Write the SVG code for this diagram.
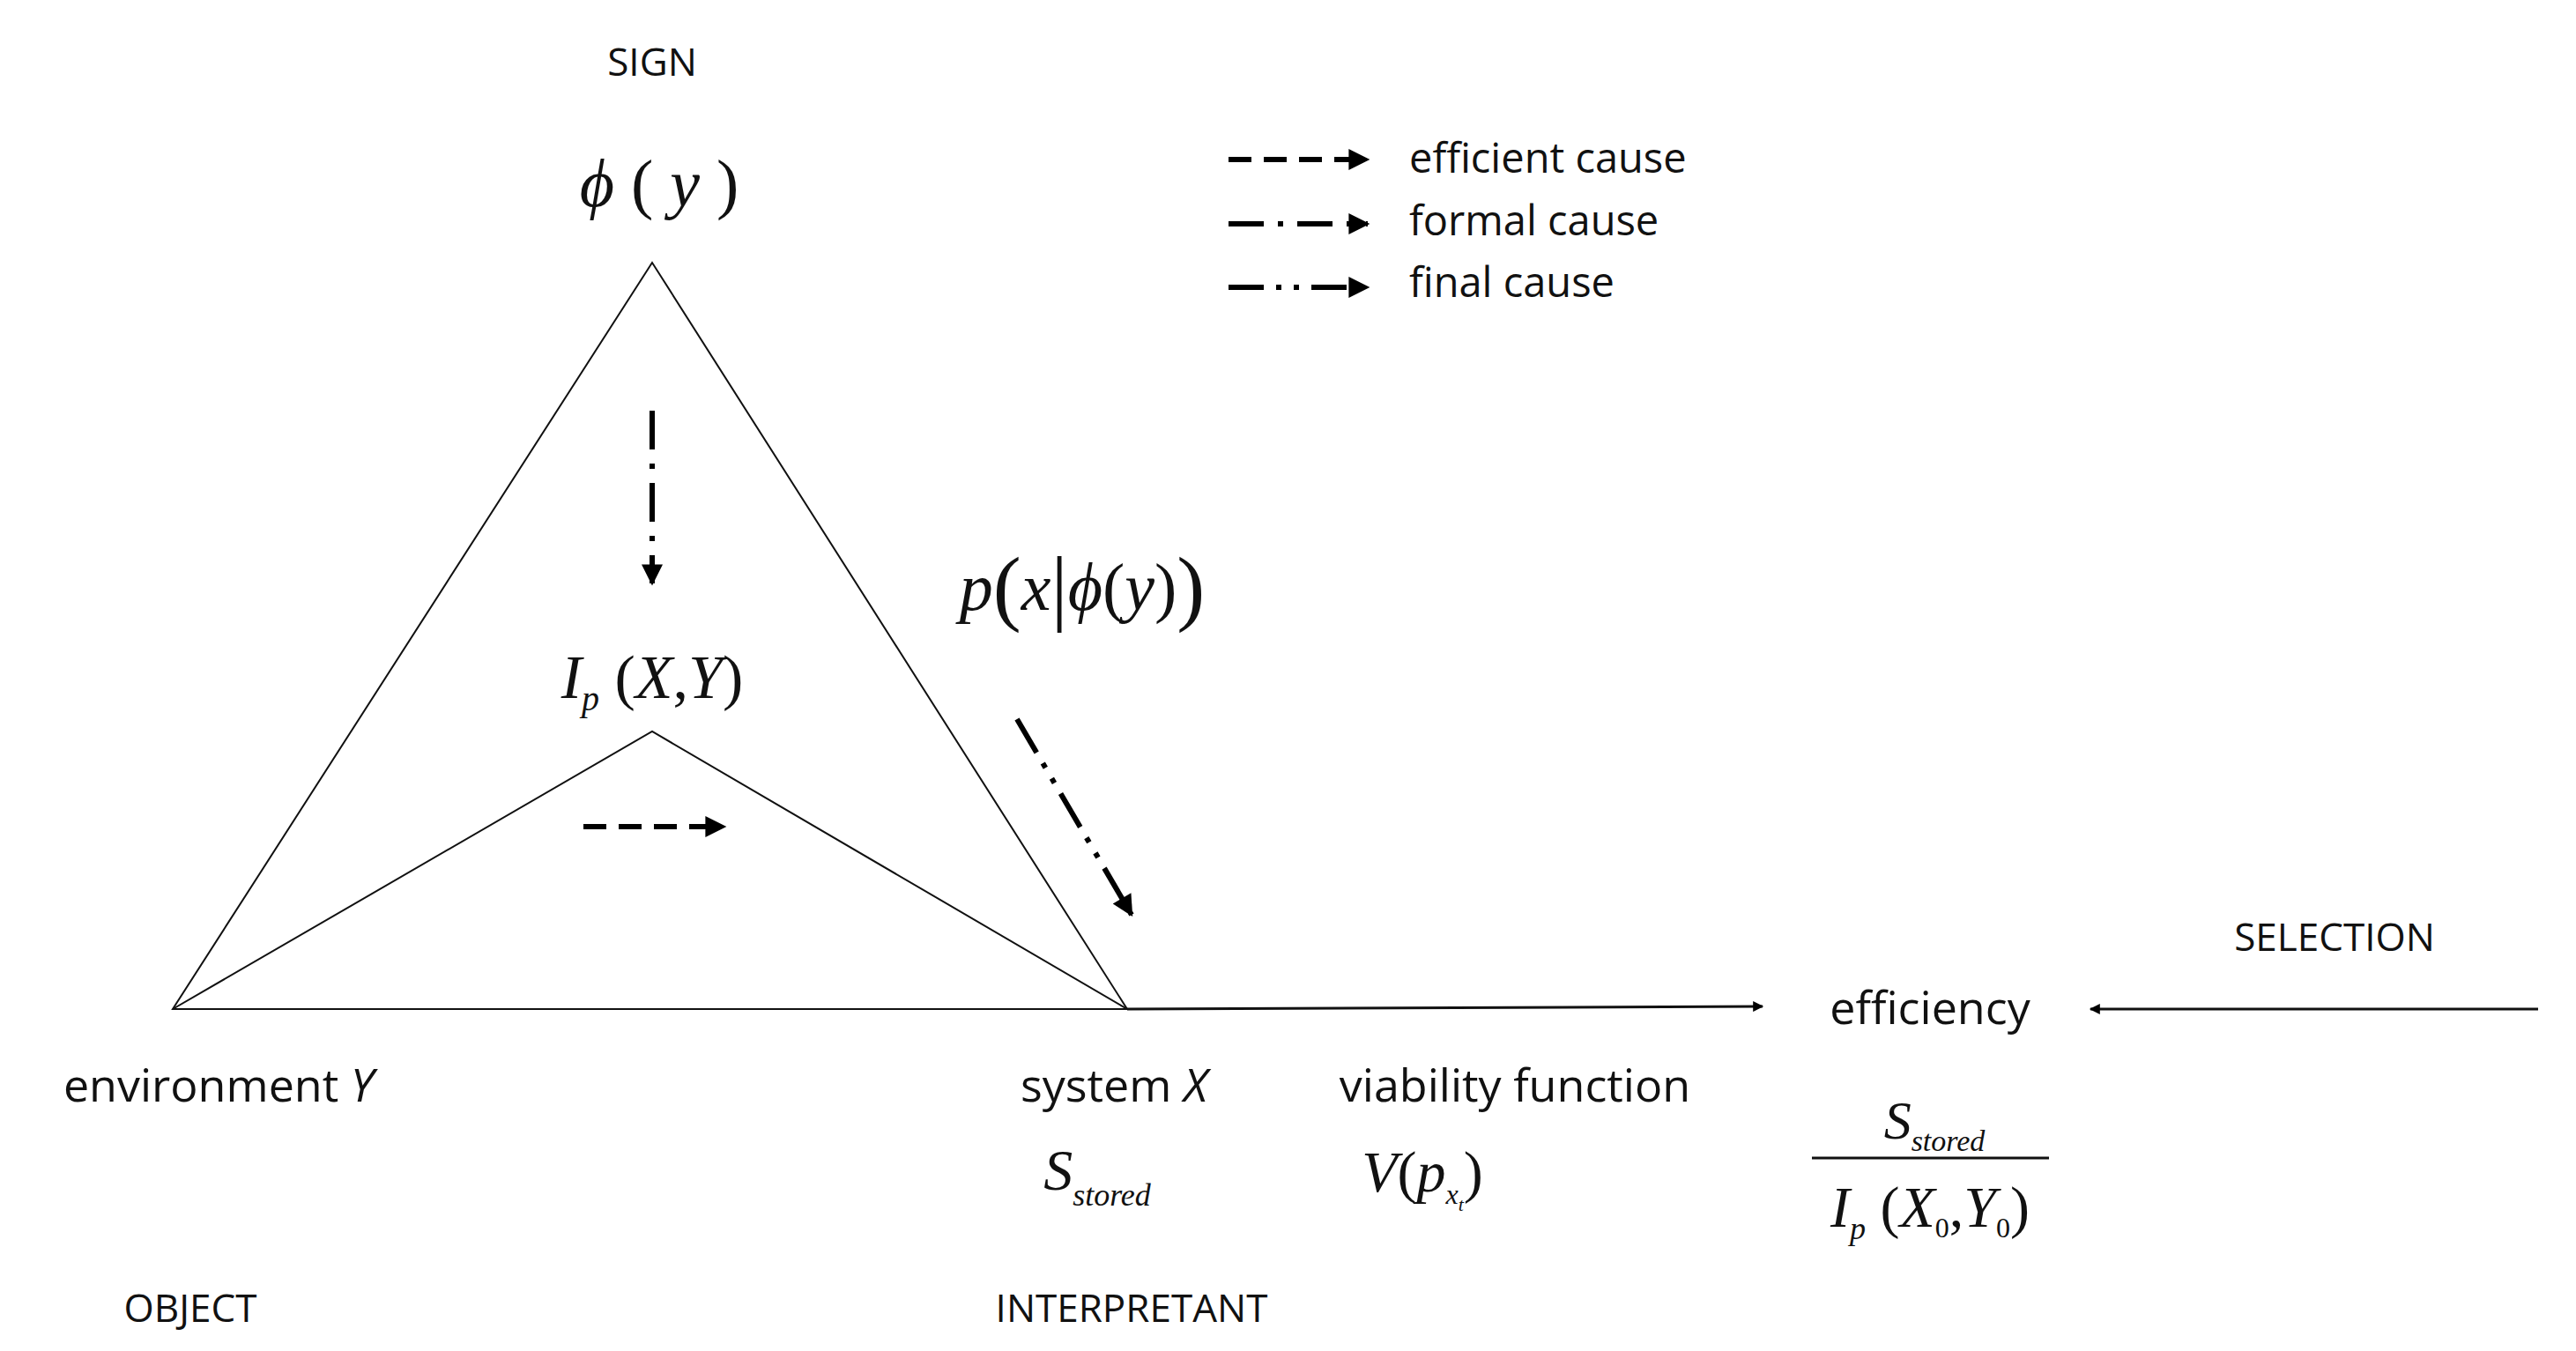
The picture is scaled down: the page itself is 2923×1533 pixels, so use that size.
<svg xmlns="http://www.w3.org/2000/svg" width="2923" height="1533" viewBox="0 0 2923 1533">
<style>
.t{font-family:"Open Sans","Liberation Sans",sans-serif;fill:#111;text-anchor:middle}
.l{font-family:"Open Sans","Liberation Sans",sans-serif;fill:#111;font-size:47px}
.m{font-family:"Liberation Serif",serif;font-style:italic;fill:#111;text-anchor:middle}
.u{font-style:normal}
.ln{stroke:#111;stroke-width:2;fill:none}
.a{stroke:#000;stroke-width:6;fill:none}
</style>
<defs>
<marker id="ah" viewBox="0 0 10 10" refX="9" refY="5" markerWidth="4.5" markerHeight="4" orient="auto"><path d="M0,0L10,5L0,10z" fill="#000"/></marker>
</defs>
<g id="triangle">
<polygon class="ln" points="740,298 196,1145 1279,1145"/>
<polyline class="ln" points="196,1145 740,830 1279,1145"/>
</g>
<g id="connectors">
<line class="a" x1="740" y1="466" x2="740" y2="662" stroke-dasharray="44,16,6,16" marker-end="url(#ah)"/>
<line class="a" x1="662" y1="938" x2="822" y2="938" stroke-dasharray="26,14" marker-end="url(#ah)"/>
<line class="a" x1="1154" y1="816" x2="1284" y2="1038" stroke-dasharray="44,14,6,14,6,14" marker-end="url(#ah)"/>
<line x1="1279" y1="1145" x2="2000" y2="1142" stroke="#111" stroke-width="3" marker-end="url(#ah)"/>
<line x1="2880" y1="1145" x2="2372" y2="1145" stroke="#111" stroke-width="3" marker-end="url(#ah)"/>
</g>
<g id="legend">
<line class="a" x1="1394" y1="181" x2="1552" y2="181" stroke-dasharray="26,14" marker-end="url(#ah)"/>
<line class="a" x1="1394" y1="254" x2="1552" y2="254" stroke-dasharray="40,16,6,16" marker-end="url(#ah)"/>
<line class="a" x1="1394" y1="326" x2="1552" y2="326" stroke-dasharray="40,14,6,14,6,14" marker-end="url(#ah)"/>
<text class="l" x="1599" y="196">efficient cause</text>
<text class="l" x="1599" y="267">formal cause</text>
<text class="l" x="1599" y="337">final cause</text>
</g>
<g id="sign">
<text class="t" x="740" y="86" font-size="44">SIGN</text>
<text class="m" x="748" y="234" font-size="76">ϕ <tspan class="u">(</tspan> y <tspan class="u">)</tspan></text>
</g>
<g id="ip"><text class="m" x="740" y="792" font-size="70">I<tspan font-size="40" dy="14">p</tspan><tspan dy="-14" class="u"> (</tspan>X<tspan class="u">,</tspan>Y<tspan class="u">)</tspan></text></g>
<g id="pcond"><text class="m" x="1228" y="692" font-size="76">p<tspan class="u" font-size="96" dy="6">(</tspan><tspan dy="-6">x</tspan><tspan class="u" font-size="96" dy="6">|</tspan><tspan dy="-6">ϕ</tspan><tspan class="u">(</tspan>y<tspan class="u">)</tspan><tspan class="u" font-size="96" dy="6">)</tspan></text></g>
<g id="environment">
<text class="t" x="248" y="1250" font-size="52">environment <tspan font-style="italic">Y</tspan></text>
<text class="t" x="216" y="1500" font-size="44">OBJECT</text>
</g>
<g id="system">
<text class="t" x="1264" y="1250" font-size="52">system <tspan font-style="italic">X</tspan></text>
<text class="m" x="1245" y="1350" font-size="66">S<tspan font-size="36" dy="18">stored</tspan></text>
<text class="t" x="1284" y="1500" font-size="44">INTERPRETANT</text>
</g>
<g id="viability">
<text class="t" x="1719" y="1250" font-size="52">viability function</text>
<text class="m" x="1614" y="1352" font-size="66">V<tspan class="u">(</tspan>p<tspan font-size="32" dy="14">x<tspan font-size="22" dy="8">t</tspan></tspan><tspan class="u" dy="-22">)</tspan></text>
</g>
<g id="efficiency">
<text class="t" x="2190" y="1162" font-size="52">efficiency</text>
<text class="m" x="2195" y="1292" font-size="62">S<tspan font-size="34" dy="14">stored</tspan></text>
<line x1="2056" y1="1314" x2="2325" y2="1314" stroke="#111" stroke-width="3"/>
<text class="m" x="2190" y="1392" font-size="66">I<tspan font-size="36" dy="14">p</tspan><tspan dy="-14" class="u"> (</tspan>X<tspan font-size="32" dy="12" class="u">0</tspan><tspan dy="-12" class="u">,</tspan>Y<tspan font-size="32" dy="12" class="u">0</tspan><tspan dy="-12" class="u">)</tspan></text>
</g>
<g id="selection"><text class="t" x="2649" y="1079" font-size="44">SELECTION</text></g>
</svg>
